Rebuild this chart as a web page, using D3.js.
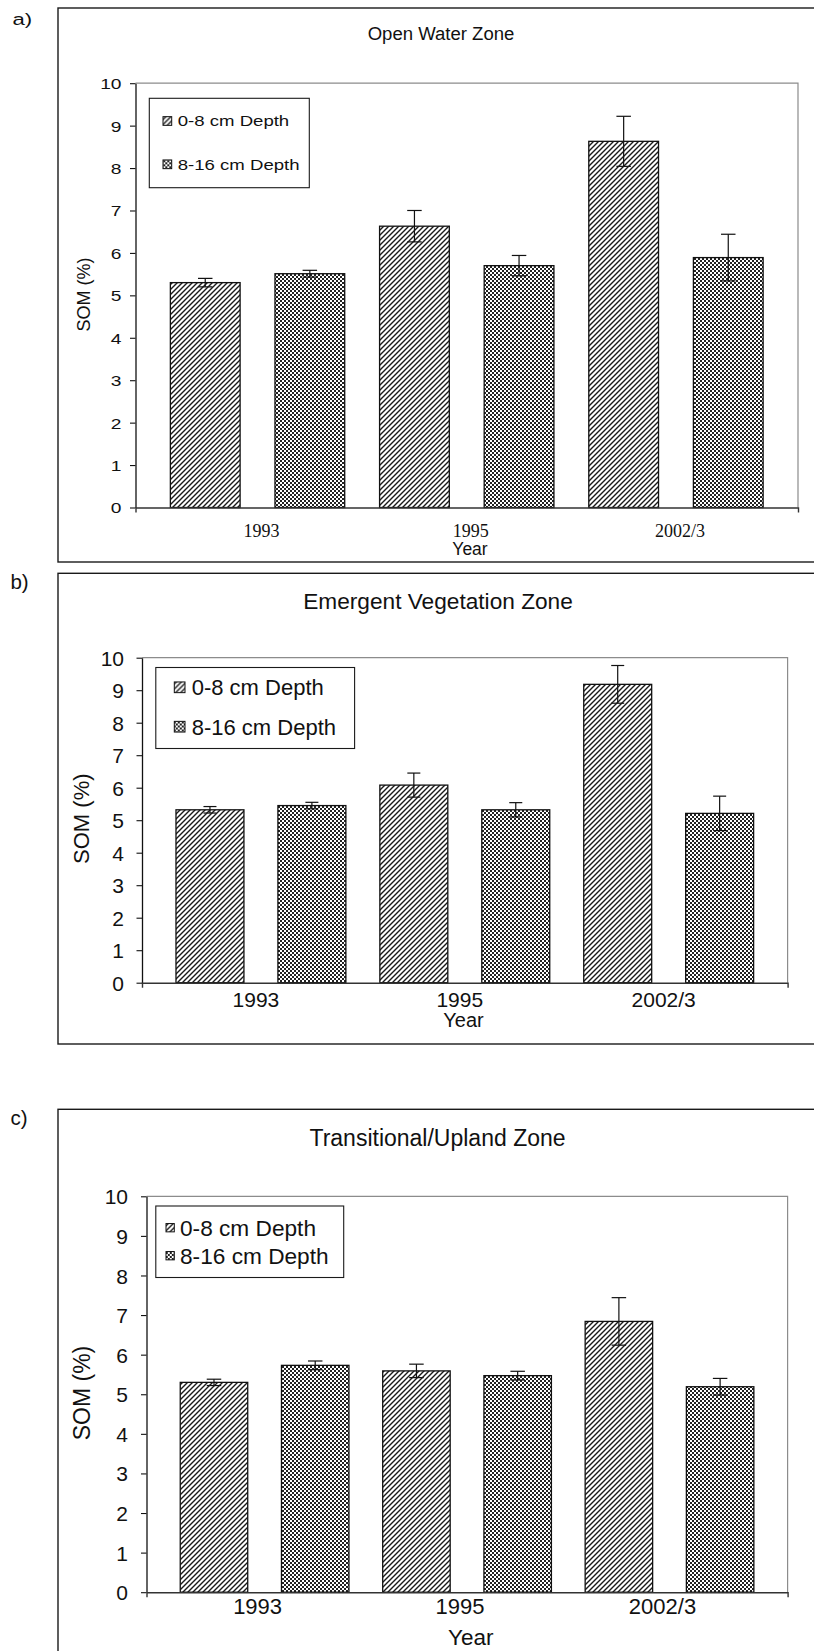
<!DOCTYPE html>
<html>
<head>
<meta charset="utf-8">
<script src="https://cdn.jsdelivr.net/npm/d3@7"></script>
<style>
  html, body { margin: 0; padding: 0; background: #fff; }
  svg { display: block; }
  text { font-family: "Liberation Sans", Arial, sans-serif; fill: #111; }
</style>
</head>
<body>
<svg id="chart" width="814" height="1651"></svg>
<script>
// ---------------- DATA ----------------
const years = ["1993", "1995", "2002/3"];
const depths = ["0-8 cm Depth", "8-16 cm Depth"];
const yTickValues = [0, 1, 2, 3, 4, 5, 6, 7, 8, 9, 10];
const panelLetters = ["a)", "b)", "c)"];
const panelTitles = ["Open Water Zone", "Emergent Vegetation Zone", "Transitional/Upland Zone"];
const yAxisTitle = "SOM (%)";
const xAxisTitle = "Year";

// Open water zone
const openShallow = [5.30, 6.63, 8.63];
const openShallowErr = [0.10, 0.37, 0.59];
const openDeep = [5.51, 5.70, 5.89];
const openDeepErr = [0.08, 0.24, 0.55];
// Emergent vegetation zone
const emergentShallow = [5.32, 6.08, 9.18];
const emergentShallowErr = [0.10, 0.37, 0.58];
const emergentDeep = [5.45, 5.32, 5.21];
const emergentDeepErr = [0.10, 0.22, 0.53];
// Transitional / upland zone
const uplandShallow = [5.30, 5.59, 6.84];
const uplandShallowErr = [0.08, 0.17, 0.60];
const uplandDeep = [5.73, 5.47, 5.19];
const uplandDeepErr = [0.11, 0.11, 0.21];

const panelValues = [
  [openShallow, openDeep],
  [emergentShallow, emergentDeep],
  [uplandShallow, uplandDeep]
];
const panelErrors = [
  [openShallowErr, openDeepErr],
  [emergentShallowErr, emergentDeepErr],
  [uplandShallowErr, uplandDeepErr]
];

// ---------------- LAYOUT (positions / styles) ----------------
const layouts = [
  { box: [58, 8, 562], letter: { x: 12.5, y: 25, size: 17, sx: 1.3 },
    title: { x: 441, y: 39.5, size: 18, sx: 1.03 },
    plot: { l: 135.5, t: 83.2, r: 798, b: 507.5 },
    tick: { size: 15, sx: 1.28, gap: 14 },
    yTitle: { x: 89.5, y: 294.6, size: 18 },
    legend: { x: 149.3, y: 98.3, w: 160, h: 89.4, icon: 8.7, iconX: 13.7, textX: 28.4, rows: [22.7, 66], size: 15, sx: 1.24 },
    xlab: { serif: true, size: 18, y: 29, dx: 4 },
    xTitle: { x: 470, y: 555.4, size: 17.5 },
    cap: 14.5 },
  { box: [58, 573.3, 1044], letter: { x: 10.4, y: 588.7, size: 20.5, sx: 1 },
    title: { x: 438, y: 608.5, size: 22, sx: 1.03 },
    plot: { l: 142, t: 657.7, r: 787.6, b: 982.7 },
    tick: { size: 21, sx: 1, gap: 18 },
    yTitle: { x: 89, y: 818.7, size: 22 },
    legend: { x: 155.8, y: 667.5, w: 198.8, h: 81, icon: 10.7, iconX: 18.5, textX: 35.9, rows: [19.8, 59.2], size: 22, sx: 1 },
    xlab: { serif: false, size: 21, y: 24.6, dx: -5 },
    xTitle: { x: 463.5, y: 1026.5, size: 20 },
    cap: 13 },
  { box: [58, 1109.3, 1700], letter: { x: 10.4, y: 1125, size: 20.5, sx: 1 },
    title: { x: 437.5, y: 1146, size: 23, sx: 1 },
    plot: { l: 146.5, t: 1196.3, r: 787.6, b: 1592.2 },
    tick: { size: 21, sx: 1, gap: 18.5 },
    yTitle: { x: 90, y: 1393, size: 23 },
    legend: { x: 155.8, y: 1206, w: 187.9, h: 71.5, icon: 8.3, iconX: 10.2, textX: 24.2, rows: [21.7, 49.7], size: 22, sx: 1.03 },
    xlab: { serif: false, size: 22, y: 21.5, dx: -7 },
    xTitle: { x: 470.8, y: 1645, size: 22.5 },
    cap: 14.5 }
];

// ---------------- DRAW ----------------
const svg = d3.select("#chart");
const defs = svg.append("defs");

// diagonal stripes (0-8 cm)
const diag = defs.append("pattern")
  .attr("id", "diag").attr("patternUnits", "userSpaceOnUse")
  .attr("width", 5).attr("height", 5);
diag.append("rect").attr("width", 5).attr("height", 5).attr("fill", "#fff");
diag.append("path")
  .attr("d", "M-1,1 l2,-2 M0,5 l5,-5 M4,6 l2,-2")
  .attr("stroke", "#1a1a1a").attr("stroke-width", 1.4);

// fine checker (8-16 cm)
const chk = defs.append("pattern")
  .attr("id", "chk").attr("patternUnits", "userSpaceOnUse")
  .attr("width", 4).attr("height", 4);
chk.append("rect").attr("width", 4).attr("height", 4).attr("fill", "#fff");
chk.append("rect").attr("x", 0).attr("y", 0).attr("width", 2).attr("height", 2).attr("fill", "#222");
chk.append("rect").attr("x", 2).attr("y", 2).attr("width", 2).attr("height", 2).attr("fill", "#222");

const fills = ["url(#diag)", "url(#chk)"];

function sText(g, x, y, str, size, sx, anchor, family) {
  return g.append("text")
    .attr("transform", `translate(${x},${y}) scale(${sx},1)`)
    .attr("text-anchor", anchor || "start")
    .style("font-size", size + "px")
    .style("font-family", family || null)
    .text(str);
}

layouts.forEach((L, pi) => {
  const g = svg.append("g");

  // outer box (right edge runs off the page)
  g.append("rect")
    .attr("x", L.box[0]).attr("y", L.box[1])
    .attr("width", 820 - L.box[0]).attr("height", L.box[2] - L.box[1])
    .attr("fill", "none").attr("stroke", "#1a1a1a").attr("stroke-width", 1.4);

  sText(g, L.letter.x, L.letter.y, panelLetters[pi], L.letter.size, L.letter.sx, "start");
  sText(g, L.title.x, L.title.y, panelTitles[pi], L.title.size, L.title.sx, "middle");

  const P = L.plot;
  const y = d3.scaleLinear().domain([0, 10]).range([P.b, P.t]);
  const x0 = d3.scaleBand().domain(years).range([P.l, P.r])
    .paddingInner(1 / 6).paddingOuter(1 / 6);
  const x1 = d3.scaleBand().domain(depths).range([0, x0.bandwidth()])
    .paddingInner(1 / 3).paddingOuter(0);

  // plot border (top & right, grey)
  g.append("path")
    .attr("d", `M${P.l},${P.t}H${P.r}V${P.b}`)
    .attr("fill", "none").attr("stroke", "#8c8c8c").attr("stroke-width", 1.2);

  // bars
  const rows = [];
  years.forEach((yr, i) => depths.forEach((dp, j) => {
    rows.push({ yr, dp, j, v: panelValues[pi][j][i], e: panelErrors[pi][j][i] });
  }));

  g.selectAll("rect.bar").data(rows).join("rect")
    .attr("class", "bar")
    .attr("x", d => x0(d.yr) + x1(d.dp))
    .attr("y", d => y(d.v))
    .attr("width", x1.bandwidth())
    .attr("height", d => y(0) - y(d.v))
    .attr("fill", d => fills[d.j])
    .attr("stroke", "#111").attr("stroke-width", 1.3);

  // error bars
  const eb = g.selectAll("g.err").data(rows).join("g").attr("class", "err")
    .attr("transform", d => `translate(${x0(d.yr) + x1(d.dp) + x1.bandwidth() / 2},0)`);
  eb.append("line")
    .attr("y1", d => y(d.v - d.e)).attr("y2", d => y(d.v + d.e))
    .attr("stroke", "#111").attr("stroke-width", 1.2);
  eb.append("line")
    .attr("x1", -L.cap / 2).attr("x2", L.cap / 2)
    .attr("y1", d => y(d.v + d.e)).attr("y2", d => y(d.v + d.e))
    .attr("stroke", "#111").attr("stroke-width", 1.2);
  eb.append("line")
    .attr("x1", -L.cap / 2).attr("x2", L.cap / 2)
    .attr("y1", d => y(d.v - d.e)).attr("y2", d => y(d.v - d.e))
    .attr("stroke", "#111").attr("stroke-width", 1.2);

  // y axis
  const ya = g.append("g").attr("transform", `translate(${P.l},0)`)
    .call(d3.axisLeft(y).tickValues(yTickValues).tickFormat(d3.format("d"))
      .tickSize(5.5).tickSizeOuter(0));
  ya.select(".domain").attr("stroke", "#111").attr("stroke-width", 1.3);
  ya.selectAll(".tick line").attr("stroke", "#111").attr("stroke-width", 1.1);
  ya.selectAll(".tick text")
    .attr("x", -L.tick.gap / L.tick.sx)
    .attr("dy", "0.36em")
    .attr("transform", `scale(${L.tick.sx},1)`)
    .attr("fill", "#111")
    .style("font-size", L.tick.size + "px")
    .style("font-family", '"Liberation Sans", Arial, sans-serif');

  // x axis
  const xa = g.append("g").attr("transform", `translate(0,${P.b})`)
    .call(d3.axisBottom(x0).tickSize(0).tickSizeOuter(5).tickPadding(0));
  xa.select(".domain").attr("stroke", "#333").attr("stroke-width", 1.4);
  xa.selectAll(".tick text")
    .attr("y", L.xlab.y).attr("dy", 0).attr("x", L.xlab.dx)
    .attr("fill", "#111")
    .style("font-size", L.xlab.size + "px")
    .style("font-family", L.xlab.serif ? '"Liberation Serif", "Times New Roman", serif'
                                       : '"Liberation Sans", Arial, sans-serif');

  // axis titles
  g.append("text")
    .attr("transform", `translate(${L.yTitle.x},${L.yTitle.y}) rotate(-90)`)
    .attr("text-anchor", "middle")
    .style("font-size", L.yTitle.size + "px")
    .text(yAxisTitle);
  g.append("text")
    .attr("x", L.xTitle.x).attr("y", L.xTitle.y)
    .attr("text-anchor", "middle")
    .style("font-size", L.xTitle.size + "px")
    .text(xAxisTitle);

  // legend
  const Lg = L.legend;
  const lg = g.append("g").attr("transform", `translate(${Lg.x},${Lg.y})`);
  lg.append("rect").attr("width", Lg.w).attr("height", Lg.h)
    .attr("fill", "#fff").attr("stroke", "#1a1a1a").attr("stroke-width", 1.1);
  depths.forEach((dp, j) => {
    lg.append("rect")
      .attr("x", Lg.iconX).attr("y", Lg.rows[j] - Lg.icon / 2)
      .attr("width", Lg.icon).attr("height", Lg.icon)
      .attr("fill", fills[j]).attr("stroke", "#111").attr("stroke-width", 1);
    sText(lg, Lg.textX, Lg.rows[j] + Lg.size * 0.36, dp, Lg.size, Lg.sx, "start");
  });
});
</script>
</body>
</html>
